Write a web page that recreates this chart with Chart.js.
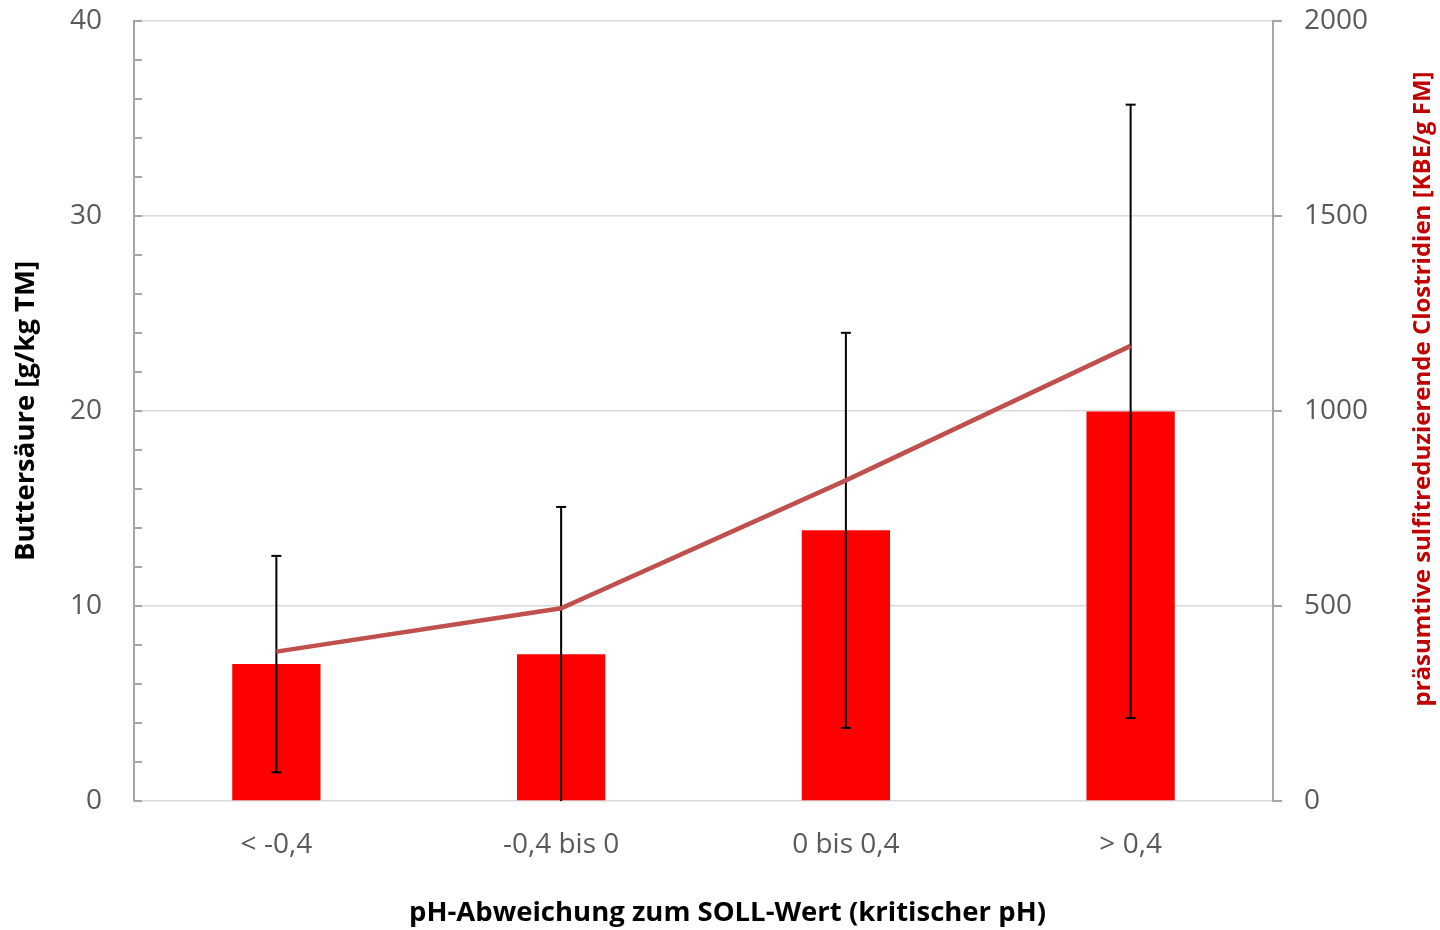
<!DOCTYPE html>
<html>
<head>
<meta charset="utf-8">
<script src="https://cdn.jsdelivr.net/npm/chart.js@4"></script>
<style>
html,body{margin:0;padding:0;background:#fff;}
#wrap{width:1440px;height:930px;position:relative;}
</style>
</head>
<body>
<div id="wrap"><canvas id="c"></canvas></div>
<script>
const categories = ['< -0,4', '-0,4 bis 0', '0 bis 0,4', '> 0,4'];
const buttersaeure = [7.02, 7.53, 13.88, 19.98];
const buttersaeureError = [5.55, 7.55, 10.13, 15.73];
const clostridien = [383, 494, 822, 1167];
const leftTicks = [0, 10, 20, 30, 40];
const rightTicks = [0, 500, 1000, 1500, 2000];
const leftMinorStep = 2;
const xTitle = 'pH-Abweichung zum SOLL-Wert (kritischer pH)';
const leftTitle = 'Buttersäure [g/kg TM]';
const rightTitle = 'präsumtive sulfitreduzierende Clostridien [KBE/g FM]';

const FONT = "'Open Sans', 'Liberation Sans', sans-serif";
const AXIS_GREY = '#A6A6A6';
const GRID_GREY = '#D9D9D9';
const TICK_TEXT = '#595959';

const errorBarPlugin = {
  id: 'errorBars',
  afterDatasetDraw(chart, args) {
    if (args.index !== 0) return;
    const ctx = chart.ctx;
    const meta = chart.getDatasetMeta(0);
    const y = chart.scales.y;
    const area = chart.chartArea;
    ctx.save();
    ctx.beginPath();
    ctx.rect(area.left, area.top, area.right - area.left, area.bottom - area.top);
    ctx.clip();
    ctx.strokeStyle = '#000';
    ctx.lineWidth = 2;
    meta.data.forEach((bar, i) => {
      const v = buttersaeure[i], e = buttersaeureError[i];
      const x = bar.x;
      const yTop = y.getPixelForValue(v + e);
      const yBot = y.getPixelForValue(v - e);
      ctx.beginPath();
      ctx.moveTo(x, yTop); ctx.lineTo(x, yBot);
      ctx.stroke();
      const cap = 5;
      [v + e, v - e].forEach(val => {
        if (val >= y.min && val <= y.max) {
          const py = y.getPixelForValue(val);
          ctx.beginPath();
          ctx.moveTo(x - cap, py); ctx.lineTo(x + cap, py);
          ctx.stroke();
        }
      });
    });
    ctx.restore();
  }
};

const minorTickPlugin = {
  id: 'minorTicks',
  afterDraw(chart) {
    const ctx = chart.ctx;
    const y = chart.scales.y;
    const x0 = chart.chartArea.left;
    ctx.save();
    ctx.strokeStyle = AXIS_GREY;
    ctx.lineWidth = 2;
    for (let v = y.min; v <= y.max + 1e-9; v += leftMinorStep) {
      const py = Math.round(y.getPixelForValue(v));
      ctx.beginPath();
      ctx.moveTo(x0, py); ctx.lineTo(x0 + 8, py);
      ctx.stroke();
    }
    ctx.restore();
  }
};

const titlesPlugin = {
  id: 'customTitles',
  afterDraw(chart) {
    const ctx = chart.ctx;
    const a = chart.chartArea;
    ctx.save();
    ctx.textAlign = 'center';
    ctx.textBaseline = 'middle';
    // x title
    ctx.fillStyle = '#000';
    ctx.font = "bold 27.5px " + FONT;
    ctx.fillText(xTitle, (a.left + a.right) / 2 + 24, chart.height - 17);
    // right title, reading bottom to top
    ctx.save();
    ctx.translate(chart.width - 17, (a.top + a.bottom) / 2 - 22);
    ctx.rotate(-Math.PI / 2);
    ctx.fillStyle = '#C00000';
    ctx.font = "bold 24px " + FONT;
    ctx.fillText(rightTitle, 0, 0);
    ctx.restore();
    ctx.restore();
  }
};

function noVerticalOverflow(s) { s.paddingTop = 0; s.paddingBottom = 0; }

new Chart(document.getElementById('c'), {
  data: {
    labels: categories,
    datasets: [
      {
        type: 'bar',
        label: 'Buttersäure',
        data: buttersaeure,
        backgroundColor: '#FF0000',
        borderWidth: 0,
        barPercentage: 0.31,
        categoryPercentage: 1,
        yAxisID: 'y',
        order: 2
      },
      {
        type: 'line',
        label: 'Clostridien',
        data: clostridien,
        borderColor: '#C0504D',
        borderWidth: 4.5,
        pointRadius: 0,
        tension: 0,
        fill: false,
        yAxisID: 'y1',
        order: 1
      }
    ]
  },
  options: {
    responsive: true,
    maintainAspectRatio: false,
    animation: false,
    layout: { padding: { top: 21, left: 0, right: 0, bottom: 0 } },
    plugins: { legend: { display: false }, tooltip: { enabled: false } },
    scales: {
      x: {
        type: 'category',
        offset: true,
        grid: { display: false, drawTicks: false },
        border: { display: false },
        ticks: { color: TICK_TEXT, font: { family: FONT, size: 28 }, padding: 27, maxRotation: 0 },
        title: { display: false },
        afterFit(s) { s.height = 129; s.paddingLeft = 0; s.paddingRight = 0; }
      },
      y: {
        type: 'linear',
        position: 'left',
        min: 0, max: 40,
        afterBuildTicks(s) { s.ticks = leftTicks.map(v => ({ value: v })); },
        grid: { color: GRID_GREY, lineWidth: 1.5, drawTicks: false },
        border: { color: AXIS_GREY, width: 2 },
        ticks: { color: TICK_TEXT, font: { family: FONT, size: 28 }, padding: 32 },
        title: {
          display: true,
          text: leftTitle,
          color: '#000',
          font: { family: FONT, size: 27.5, weight: 'bold' },
          padding: { top: 10, bottom: 0 }
        },
        afterFit(s) { s.width = 134; noVerticalOverflow(s); }
      },
      y1: {
        type: 'linear',
        position: 'right',
        min: 0, max: 2000,
        afterBuildTicks(s) { s.ticks = rightTicks.map(v => ({ value: v })); },
        grid: { display: true, drawOnChartArea: false, drawTicks: true, tickLength: 9, color: AXIS_GREY, lineWidth: 2 },
        border: { color: AXIS_GREY, width: 2 },
        ticks: { color: TICK_TEXT, font: { family: FONT, size: 28 }, padding: 22, callback: v => String(v) },
        title: { display: false },
        afterFit(s) { s.width = 167; noVerticalOverflow(s); }
      }
    }
  },
  plugins: [errorBarPlugin, minorTickPlugin, titlesPlugin]
});
</script>
</body>
</html>
